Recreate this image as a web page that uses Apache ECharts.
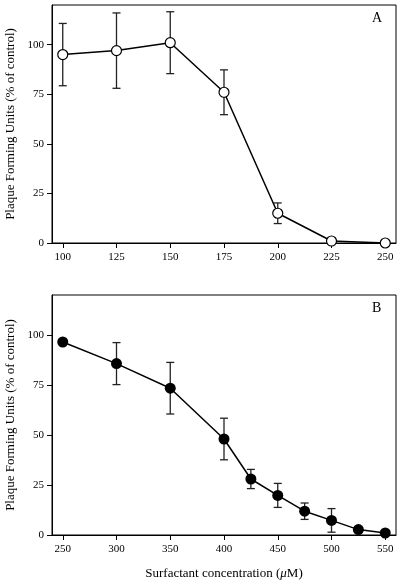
<!DOCTYPE html>
<html><head><meta charset="utf-8">
<script src="https://cdn.jsdelivr.net/npm/echarts@6/dist/echarts.min.js"></script>
<style>html,body{margin:0;padding:0;background:#fff}#c{width:406px;height:585px}</style>
</head><body><div id="c"></div>
<script>
// Panel A
const concA = [100, 125, 150, 175, 200, 225, 250];
const pfuA = [95, 97, 101, 76, 15, 1, 0];
const errA = [15.7, 19, 15.6, 11.3, 5.2, 0, 0];
const ticksA = [100, 125, 150, 175, 200, 225, 250];
// Panel B
const concB = [250, 300, 350, 400, 425, 450, 475, 500, 525, 550];
const pfuB = [96.5, 85.7, 73.4, 48, 28, 19.8, 11.9, 7.3, 2.7, 1];
const errB = [0, 10.5, 12.9, 10.4, 4.8, 6, 4.1, 5.9, 0, 0];
const ticksB = [250, 300, 350, 400, 450, 500, 550];
const ticksY = [0, 25, 50, 75, 100];

const FONT = 'Liberation Serif';
const yName = 'Plaque Forming Units (% of control)';

function pts(x, y) { return x.map((v, i) => [v, y[i]]); }
function errData(x, y, e) { return x.map((v, i) => [v, y[i] - e[i], y[i] + e[i]]).filter((d, i) => e[i] > 0); }

function errRender(params, api) {
  const x = api.value(0);
  const lo = api.coord([x, api.value(1)]);
  const hi = api.coord([x, api.value(2)]);
  const w = 4;
  const st = { stroke: '#222', lineWidth: 1.3, fill: null };
  return {
    type: 'group',
    children: [
      { type: 'line', shape: { x1: lo[0], y1: lo[1], x2: hi[0], y2: hi[1] }, style: st },
      { type: 'line', shape: { x1: lo[0] - w, y1: lo[1], x2: lo[0] + w, y2: lo[1] }, style: st },
      { type: 'line', shape: { x1: hi[0] - w, y1: hi[1], x2: hi[0] + w, y2: hi[1] }, style: st }
    ]
  };
}

function xAxis(idx, min, max, ticks, name) {
  return {
    type: 'value', gridIndex: idx, min: min, max: max,
    axisLine: { show: true, lineStyle: { color: '#000', width: 1 } },
    axisTick: { show: true, length: 5, inside: false, customValues: ticks, lineStyle: { color: '#000' } },
    axisLabel: { customValues: ticks, color: '#000', fontFamily: FONT, fontSize: 11, margin: 9 },
    splitLine: { show: false },
    name: name || '', nameLocation: 'middle', nameGap: 32,
    nameTextStyle: { color: '#000', fontFamily: FONT, fontSize: 13,
      rich: { i: { fontStyle: 'italic', fontFamily: FONT, fontSize: 13, color: '#000' } } }
  };
}
function yAxis(idx) {
  return {
    type: 'value', gridIndex: idx, min: 0, max: 120,
    axisLine: { show: true, lineStyle: { color: '#000', width: 1 } },
    axisTick: { show: true, length: 5, customValues: ticksY, lineStyle: { color: '#000' } },
    axisLabel: { customValues: ticksY, color: '#000', fontFamily: FONT, fontSize: 11, margin: 8 },
    splitLine: { show: false },
    name: yName, nameLocation: 'middle', nameGap: 34, nameRotate: 90,
    nameTextStyle: { color: '#000', fontFamily: FONT, fontSize: 13 }
  };
}

const chart = echarts.init(document.getElementById('c'), null, { renderer: 'canvas' });
chart.setOption({
  animation: false,
  backgroundColor: '#fff',
  grid: [
    { left: 52, right: 10, top: 5, height: 238, show: true, borderColor: '#000', borderWidth: 1, backgroundColor: 'transparent', containLabel: false, outerBoundsMode: 'none' },
    { left: 52, right: 10, top: 295, height: 240, show: true, borderColor: '#000', borderWidth: 1, backgroundColor: 'transparent', containLabel: false, outerBoundsMode: 'none' }
  ],
  xAxis: [
    xAxis(0, 95, 255, ticksA),
    xAxis(1, 240, 560, ticksB, 'Surfactant concentration ({i|μ}M)')
  ],
  yAxis: [yAxis(0), yAxis(1)],
  graphic: [
    { type: 'text', left: 372, top: 11, style: { text: 'A', font: '14px "Liberation Serif"', fill: '#000' } },
    { type: 'text', left: 372, top: 301, style: { text: 'B', font: '14px "Liberation Serif"', fill: '#000' } }
  ],
  series: [
    { type: 'custom', xAxisIndex: 0, yAxisIndex: 0, renderItem: errRender, data: errData(concA, pfuA, errA), z: 1 },
    { type: 'line', xAxisIndex: 0, yAxisIndex: 0, data: pts(concA, pfuA), symbol: 'circle', symbolSize: 10,
      lineStyle: { color: '#000', width: 1.5 }, itemStyle: { color: '#fff', borderColor: '#000', borderWidth: 1.2 }, z: 3 },
    { type: 'custom', xAxisIndex: 1, yAxisIndex: 1, renderItem: errRender, data: errData(concB, pfuB, errB), z: 1 },
    { type: 'line', xAxisIndex: 1, yAxisIndex: 1, data: pts(concB, pfuB), symbol: 'circle', symbolSize: 11,
      lineStyle: { color: '#000', width: 1.5 }, itemStyle: { color: '#000', borderColor: '#000', borderWidth: 0 }, z: 3 }
  ]
});
</script>
</body></html>
